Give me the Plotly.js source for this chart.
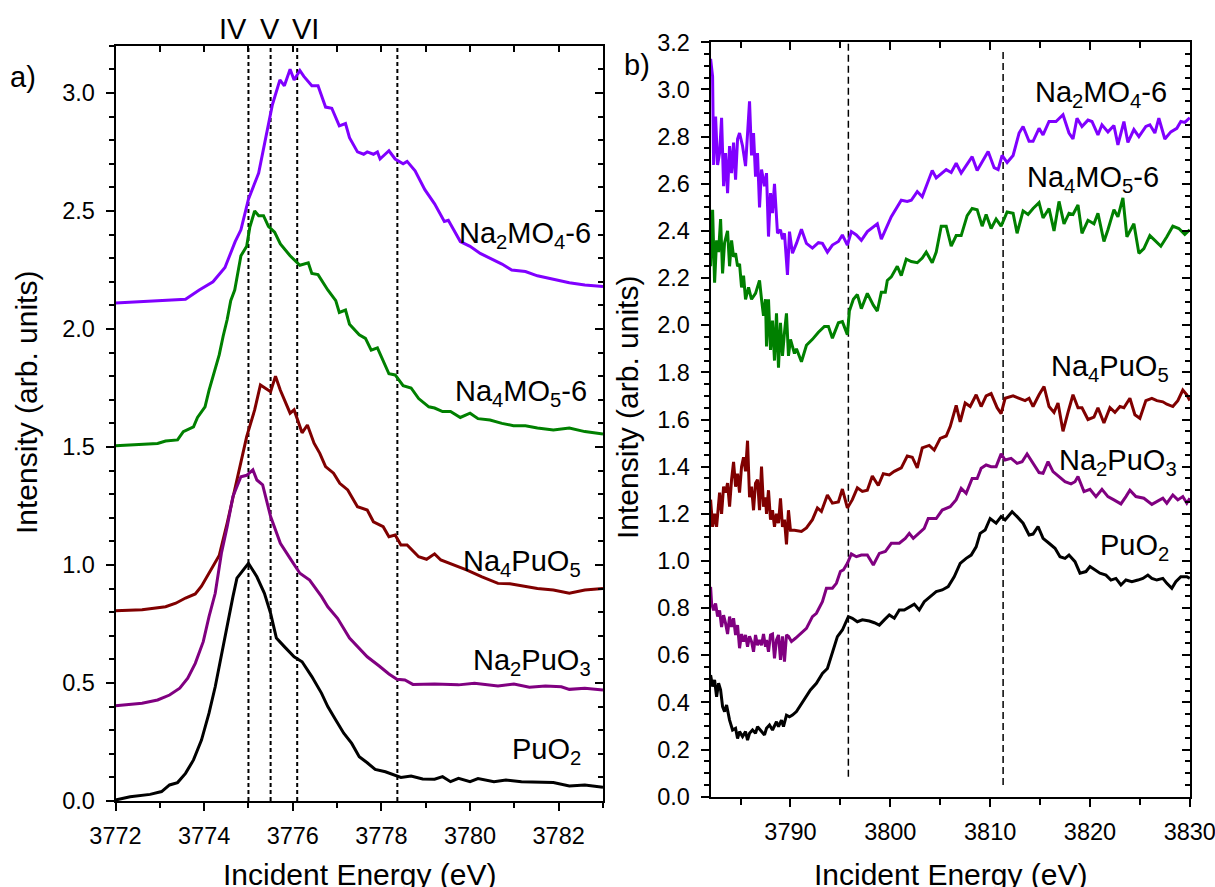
<!DOCTYPE html>
<html>
<head>
<meta charset="utf-8">
<script src="https://cdn.plot.ly/plotly-3.0.1.min.js"></script>
<style>
  html, body { margin: 0; padding: 0; background: #fff; }
  #chart { width: 1215px; height: 887px; }
</style>
</head>
<body>
<div id="chart"></div>
<script>
// ---------- Panel a) : [energy (eV), intensity] ----------
const a_Na2MO4 = [[3772.0,2.11],[3772.5,2.115],[3773.0,2.12],[3773.58,2.126],[3773.89,2.165],[3774.02,2.18],[3774.2,2.2],[3774.47,2.26],[3774.7,2.37],[3774.83,2.42],[3775.0,2.55],[3775.23,2.66],[3775.45,2.86],[3775.54,2.95],[3775.71,3.055],[3775.81,3.03],[3775.94,3.1],[3776.03,3.055],[3776.16,3.095],[3776.25,3.07],[3776.43,3.03],[3776.57,3.03],[3776.74,2.94],[3776.88,2.935],[3777.05,2.86],[3777.19,2.87],[3777.28,2.81],[3777.46,2.75],[3777.6,2.74],[3777.68,2.75],[3777.82,2.74],[3777.91,2.75],[3777.97,2.72],[3778.17,2.755],[3778.31,2.72],[3778.49,2.7],[3778.58,2.71],[3778.76,2.67],[3778.98,2.59],[3779.2,2.53],[3779.42,2.455],[3779.51,2.46],[3779.78,2.37],[3780.0,2.35],[3780.23,2.32],[3780.45,2.3],[3780.72,2.275],[3780.94,2.25],[3781.25,2.243],[3781.52,2.225],[3781.88,2.21],[3782.24,2.196],[3782.59,2.186],[3783.0,2.18]];
const a_Na4MO5 = [[3772.0,1.505],[3772.5,1.51],[3772.95,1.515],[3773.13,1.525],[3773.4,1.53],[3773.53,1.565],[3773.76,1.585],[3773.85,1.625],[3774.02,1.67],[3774.11,1.74],[3774.25,1.83],[3774.34,1.89],[3774.43,1.97],[3774.52,2.04],[3774.6,2.12],[3774.69,2.165],[3774.83,2.31],[3774.96,2.35],[3775.03,2.43],[3775.14,2.5],[3775.23,2.48],[3775.34,2.48],[3775.45,2.435],[3775.59,2.41],[3775.72,2.36],[3775.94,2.31],[3776.16,2.27],[3776.35,2.28],[3776.43,2.235],[3776.57,2.23],[3776.79,2.165],[3776.97,2.12],[3777.05,2.07],[3777.19,2.08],[3777.28,2.02],[3777.5,1.975],[3777.64,1.96],[3777.77,1.91],[3777.91,1.92],[3778.17,1.81],[3778.31,1.805],[3778.49,1.76],[3778.67,1.75],[3778.84,1.705],[3779.07,1.67],[3779.2,1.665],[3779.38,1.65],[3779.56,1.65],[3779.78,1.625],[3780.0,1.643],[3780.18,1.62],[3780.45,1.614],[3780.72,1.6],[3780.98,1.59],[3781.25,1.59],[3781.52,1.58],[3781.88,1.572],[3782.24,1.58],[3782.59,1.565],[3783.0,1.555]];
const a_Na4PuO5 = [[3772.0,0.806],[3772.6,0.81],[3773.13,0.823],[3773.36,0.838],[3773.58,0.86],[3773.8,0.877],[3773.94,0.91],[3774.11,0.965],[3774.34,1.04],[3774.52,1.177],[3774.74,1.36],[3774.96,1.544],[3775.14,1.657],[3775.27,1.763],[3775.5,1.734],[3775.61,1.8],[3775.72,1.74],[3775.94,1.643],[3776.03,1.657],[3776.21,1.56],[3776.33,1.593],[3776.48,1.516],[3776.61,1.473],[3776.74,1.417],[3776.92,1.389],[3777.06,1.346],[3777.24,1.318],[3777.46,1.247],[3777.68,1.233],[3777.82,1.183],[3778.04,1.162],[3778.17,1.12],[3778.31,1.127],[3778.44,1.085],[3778.58,1.085],[3778.84,1.035],[3779.02,1.024],[3779.2,1.047],[3779.34,1.021],[3779.65,1.0],[3779.92,0.979],[3780.27,0.95],[3780.63,0.922],[3780.9,0.92],[3781.16,0.911],[3781.52,0.9],[3781.88,0.894],[3782.24,0.88],[3782.59,0.894],[3783.0,0.9]];
const a_Na2PuO3 = [[3772.0,0.404],[3772.6,0.414],[3772.95,0.428],[3773.22,0.449],[3773.45,0.478],[3773.63,0.52],[3773.8,0.583],[3773.98,0.675],[3774.11,0.781],[3774.25,0.88],[3774.39,1.05],[3774.52,1.162],[3774.65,1.29],[3774.83,1.374],[3774.96,1.38],[3775.1,1.403],[3775.19,1.36],[3775.32,1.339],[3775.5,1.205],[3775.72,1.092],[3775.94,1.028],[3776.16,0.965],[3776.38,0.936],[3776.52,0.9],[3776.65,0.866],[3776.79,0.823],[3777.01,0.774],[3777.28,0.69],[3777.46,0.654],[3777.68,0.611],[3777.95,0.572],[3778.17,0.538],[3778.35,0.516],[3778.53,0.513],[3778.71,0.494],[3779.2,0.496],[3779.74,0.492],[3780.1,0.499],[3780.63,0.487],[3780.99,0.496],[3781.34,0.482],[3781.7,0.487],[3782.06,0.484],[3782.24,0.473],[3782.59,0.478],[3783.0,0.47]];
const a_PuO2 = [[3772.0,0.004],[3772.33,0.018],[3772.78,0.028],[3773.04,0.04],[3773.22,0.068],[3773.4,0.078],[3773.58,0.117],[3773.76,0.174],[3773.94,0.258],[3774.11,0.372],[3774.25,0.484],[3774.38,0.611],[3774.52,0.739],[3774.65,0.866],[3774.74,0.944],[3774.83,0.965],[3775.0,1.007],[3775.19,0.95],[3775.36,0.88],[3775.5,0.795],[3775.63,0.69],[3775.81,0.654],[3776.03,0.611],[3776.21,0.59],[3776.43,0.527],[3776.65,0.456],[3776.79,0.4],[3776.97,0.343],[3777.15,0.287],[3777.33,0.244],[3777.5,0.188],[3777.68,0.162],[3777.86,0.134],[3778.09,0.124],[3778.31,0.11],[3778.44,0.1],[3778.67,0.106],[3778.93,0.093],[3779.2,0.092],[3779.38,0.103],[3779.56,0.082],[3779.74,0.096],[3780.0,0.082],[3780.18,0.095],[3780.54,0.082],[3780.81,0.089],[3781.16,0.082],[3781.52,0.08],[3781.88,0.078],[3782.24,0.064],[3782.59,0.068],[3783.0,0.058]];

// ---------- Panel b) : [energy (eV), intensity] ----------
const b_Na2MO4 = [[3782.0,3.13],[3782.2,3.055],[3782.3,2.68],[3782.5,2.885],[3782.7,2.68],[3782.9,2.73],[3783.1,2.88],[3783.3,2.59],[3783.5,2.73],[3783.7,2.56],[3783.9,2.76],[3784.1,2.645],[3784.3,2.775],[3784.5,2.617],[3784.7,2.79],[3784.9,2.815],[3785.2,2.76],[3785.5,2.675],[3785.9,2.95],[3786.1,2.72],[3786.3,2.815],[3786.5,2.63],[3786.7,2.73],[3786.9,2.5],[3787.1,2.66],[3787.4,2.59],[3787.6,2.645],[3787.8,2.376],[3788.0,2.56],[3788.2,2.475],[3788.4,2.6],[3788.7,2.39],[3789.0,2.405],[3789.2,2.365],[3789.4,2.39],[3789.7,2.213],[3789.9,2.397],[3790.2,2.305],[3790.6,2.347],[3791.1,2.407],[3791.6,2.347],[3792.2,2.327],[3792.8,2.35],[3793.2,2.347],[3793.7,2.31],[3794.2,2.34],[3794.8,2.355],[3795.2,2.383],[3795.7,2.34],[3796.1,2.397],[3796.6,2.383],[3797.1,2.36],[3797.7,2.397],[3798.7,2.43],[3799.1,2.365],[3800.1,2.46],[3801.1,2.53],[3801.7,2.525],[3802.1,2.53],[3802.7,2.567],[3803.2,2.545],[3804.2,2.656],[3804.6,2.625],[3805.6,2.66],[3806.1,2.648],[3806.6,2.687],[3807.1,2.645],[3808.2,2.715],[3808.7,2.656],[3809.8,2.737],[3810.4,2.668],[3810.8,2.66],[3811.2,2.72],[3811.7,2.69],[3812.3,2.72],[3812.9,2.815],[3813.3,2.843],[3813.9,2.78],[3814.3,2.78],[3814.9,2.835],[3815.3,2.807],[3815.9,2.864],[3816.6,2.864],[3817.3,2.893],[3817.9,2.815],[3818.3,2.79],[3818.7,2.878],[3819.2,2.843],[3819.8,2.87],[3820.2,2.864],[3820.8,2.807],[3821.2,2.85],[3821.8,2.82],[3822.4,2.847],[3822.8,2.765],[3823.4,2.864],[3823.8,2.775],[3824.4,2.83],[3824.9,2.8],[3825.6,2.843],[3826.0,2.85],[3826.5,2.815],[3826.9,2.878],[3827.5,2.79],[3828.1,2.82],[3828.7,2.835],[3829.1,2.864],[3829.5,2.86],[3830.0,2.88]];
const b_Na4MO5 = [[3782.0,2.25],[3782.2,2.49],[3782.4,2.18],[3782.6,2.36],[3782.8,2.31],[3783.0,2.45],[3783.2,2.22],[3783.4,2.35],[3783.7,2.4],[3783.9,2.25],[3784.1,2.36],[3784.3,2.29],[3784.5,2.305],[3784.7,2.25],[3784.9,2.26],[3785.1,2.16],[3785.3,2.21],[3785.5,2.11],[3785.8,2.16],[3786.1,2.11],[3786.5,2.135],[3786.9,2.19],[3787.1,2.11],[3787.3,2.04],[3787.5,2.11],[3787.6,1.91],[3787.8,2.11],[3788.0,1.895],[3788.2,2.02],[3788.4,1.85],[3788.6,2.05],[3788.8,1.82],[3789.0,2.01],[3789.2,1.87],[3789.4,1.97],[3789.6,2.05],[3789.8,1.87],[3790.0,1.94],[3790.4,1.88],[3790.6,1.9],[3791.1,1.845],[3791.6,1.915],[3792.2,1.94],[3792.8,1.97],[3793.4,1.995],[3793.8,1.995],[3794.2,1.945],[3794.8,2.01],[3795.2,2.015],[3795.7,1.96],[3795.9,2.06],[3796.3,2.11],[3796.7,2.13],[3797.1,2.07],[3797.7,2.135],[3798.3,2.085],[3798.7,2.06],[3799.1,2.14],[3799.5,2.14],[3799.7,2.19],[3800.1,2.205],[3800.7,2.25],[3801.1,2.21],[3801.6,2.28],[3802.1,2.27],[3802.7,2.265],[3803.2,2.285],[3803.6,2.31],[3804.2,2.265],[3804.6,2.31],[3805.1,2.42],[3805.6,2.42],[3806.1,2.335],[3806.6,2.38],[3807.1,2.38],[3807.7,2.465],[3808.2,2.495],[3808.7,2.49],[3809.2,2.42],[3809.6,2.47],[3810.1,2.41],[3810.6,2.45],[3811.1,2.42],[3811.7,2.48],[3812.3,2.475],[3812.7,2.39],[3813.3,2.485],[3813.8,2.47],[3814.3,2.495],[3814.9,2.52],[3815.3,2.455],[3815.9,2.495],[3816.4,2.4],[3816.9,2.525],[3817.4,2.43],[3817.9,2.475],[3818.3,2.47],[3818.8,2.51],[3819.2,2.39],[3819.8,2.445],[3820.4,2.43],[3820.8,2.475],[3821.4,2.355],[3821.8,2.405],[3822.4,2.49],[3822.8,2.46],[3823.3,2.54],[3823.7,2.375],[3824.4,2.43],[3824.9,2.305],[3825.4,2.325],[3826.0,2.38],[3826.5,2.36],[3827.1,2.335],[3827.7,2.375],[3828.3,2.42],[3828.9,2.41],[3829.5,2.385],[3830.0,2.405]];
const b_Na4PuO5 = [[3782.0,1.26],[3782.2,1.145],[3782.4,1.2],[3782.6,1.145],[3782.9,1.29],[3783.1,1.2],[3783.3,1.315],[3783.5,1.29],[3783.7,1.33],[3783.9,1.23],[3784.1,1.345],[3784.3,1.42],[3784.5,1.315],[3784.7,1.37],[3784.9,1.29],[3785.1,1.4],[3785.3,1.44],[3785.5,1.38],[3785.7,1.51],[3785.9,1.27],[3786.1,1.315],[3786.3,1.215],[3786.5,1.33],[3786.7,1.345],[3786.9,1.215],[3787.1,1.4],[3787.3,1.23],[3787.5,1.27],[3787.6,1.2],[3787.8,1.3],[3788.0,1.175],[3788.2,1.215],[3788.4,1.145],[3788.6,1.2],[3788.8,1.16],[3789.0,1.265],[3789.2,1.145],[3789.4,1.175],[3789.6,1.07],[3789.8,1.215],[3790.0,1.13],[3790.4,1.13],[3791.1,1.125],[3791.6,1.14],[3792.2,1.175],[3792.7,1.225],[3793.1,1.21],[3793.7,1.28],[3794.2,1.245],[3794.8,1.25],[3795.2,1.305],[3795.7,1.225],[3796.2,1.26],[3796.7,1.31],[3797.2,1.295],[3797.7,1.3],[3798.2,1.36],[3798.8,1.32],[3799.3,1.37],[3799.9,1.365],[3800.4,1.38],[3801.1,1.395],[3801.7,1.445],[3802.2,1.44],[3802.7,1.395],[3803.2,1.48],[3803.9,1.49],[3804.4,1.47],[3805.0,1.52],[3805.6,1.53],[3806.0,1.57],[3806.6,1.66],[3807.0,1.59],[3807.5,1.67],[3808.0,1.655],[3808.6,1.705],[3809.1,1.655],[3809.6,1.7],[3810.1,1.71],[3810.7,1.65],[3811.1,1.625],[3811.5,1.69],[3812.3,1.7],[3812.9,1.69],[3813.5,1.68],[3813.9,1.69],[3814.3,1.655],[3814.9,1.705],[3815.4,1.74],[3815.9,1.655],[3816.4,1.63],[3816.8,1.67],[3817.3,1.55],[3817.8,1.63],[3818.3,1.705],[3818.8,1.65],[3819.2,1.65],[3819.8,1.6],[3820.4,1.61],[3820.8,1.65],[3821.4,1.585],[3822.0,1.65],[3822.5,1.63],[3823.0,1.655],[3823.4,1.65],[3824.0,1.69],[3824.5,1.62],[3825.0,1.605],[3825.6,1.68],[3826.2,1.69],[3826.7,1.68],[3827.3,1.675],[3827.7,1.665],[3828.3,1.655],[3828.8,1.68],[3829.3,1.725],[3829.7,1.705],[3830.0,1.68]];
const b_Na2PuO3 = [[3782.0,0.89],[3782.1,0.82],[3782.3,0.79],[3782.5,0.82],[3782.7,0.764],[3782.9,0.79],[3783.1,0.72],[3783.3,0.77],[3783.5,0.735],[3783.7,0.69],[3783.9,0.764],[3784.1,0.72],[3784.3,0.757],[3784.5,0.686],[3784.7,0.728],[3784.9,0.63],[3785.1,0.69],[3785.3,0.658],[3785.5,0.686],[3785.7,0.636],[3785.9,0.68],[3786.1,0.658],[3786.3,0.615],[3786.5,0.686],[3786.7,0.643],[3786.9,0.665],[3787.1,0.643],[3787.3,0.69],[3787.5,0.636],[3787.6,0.665],[3787.8,0.615],[3788.0,0.686],[3788.2,0.69],[3788.4,0.587],[3788.6,0.665],[3788.8,0.686],[3789.0,0.58],[3789.2,0.68],[3789.4,0.573],[3789.6,0.686],[3789.8,0.68],[3790.1,0.658],[3790.5,0.672],[3791.0,0.693],[3791.6,0.714],[3792.2,0.764],[3792.6,0.778],[3793.2,0.827],[3793.6,0.884],[3794.2,0.884],[3794.6,0.905],[3795.0,0.955],[3795.3,0.962],[3795.7,0.99],[3796.1,1.03],[3796.6,1.018],[3797.1,1.025],[3797.7,1.025],[3798.3,0.983],[3798.9,1.032],[3799.5,1.04],[3800.1,1.075],[3800.9,1.075],[3801.5,1.096],[3801.9,1.117],[3802.3,1.096],[3802.9,1.117],[3803.4,1.138],[3803.8,1.18],[3804.6,1.18],[3805.2,1.216],[3806.0,1.23],[3806.6,1.26],[3807.1,1.308],[3807.6,1.287],[3808.2,1.35],[3808.7,1.35],[3809.1,1.393],[3809.6,1.407],[3810.1,1.4],[3810.6,1.4],[3811.1,1.454],[3811.5,1.428],[3812.1,1.435],[3812.7,1.414],[3813.2,1.421],[3813.7,1.454],[3814.3,1.414],[3814.9,1.375],[3815.3,1.372],[3815.8,1.421],[3816.3,1.379],[3816.9,1.358],[3817.5,1.336],[3818.1,1.327],[3818.5,1.336],[3818.8,1.358],[3819.4,1.294],[3820.0,1.304],[3820.6,1.273],[3821.2,1.304],[3821.8,1.273],[3822.4,1.259],[3823.1,1.242],[3823.6,1.273],[3824.0,1.3],[3824.6,1.273],[3825.4,1.266],[3826.2,1.24],[3826.7,1.251],[3827.3,1.266],[3827.7,1.245],[3828.3,1.28],[3828.8,1.259],[3829.3,1.273],[3829.7,1.245],[3830.0,1.266]];
const b_PuO2 = [[3782.0,0.516],[3782.2,0.467],[3782.4,0.495],[3782.6,0.424],[3782.8,0.481],[3783.0,0.453],[3783.2,0.382],[3783.4,0.361],[3783.6,0.389],[3783.9,0.325],[3784.2,0.283],[3784.5,0.29],[3784.7,0.247],[3784.9,0.276],[3785.2,0.255],[3785.5,0.276],[3785.7,0.24],[3785.9,0.269],[3786.2,0.283],[3786.5,0.269],[3786.7,0.297],[3787.1,0.276],[3787.4,0.262],[3787.6,0.29],[3787.9,0.304],[3788.2,0.283],[3788.6,0.318],[3788.8,0.297],[3789.1,0.325],[3789.3,0.297],[3789.6,0.346],[3789.9,0.339],[3790.2,0.346],[3790.6,0.361],[3791.0,0.389],[3791.4,0.417],[3792.0,0.453],[3792.6,0.481],[3793.2,0.523],[3793.7,0.544],[3794.2,0.608],[3794.7,0.679],[3795.2,0.707],[3795.5,0.735],[3795.8,0.764],[3796.2,0.757],[3796.7,0.742],[3797.2,0.75],[3797.9,0.745],[3798.4,0.738],[3798.9,0.728],[3799.4,0.75],[3799.9,0.771],[3800.4,0.757],[3800.9,0.792],[3801.4,0.792],[3801.9,0.806],[3802.4,0.817],[3802.9,0.792],[3803.4,0.827],[3804.0,0.849],[3804.6,0.87],[3805.2,0.877],[3805.8,0.891],[3806.4,0.933],[3807.0,0.99],[3807.6,1.011],[3808.1,1.025],[3808.6,1.06],[3809.0,1.117],[3809.5,1.131],[3810.0,1.18],[3810.6,1.16],[3811.1,1.188],[3811.5,1.174],[3812.2,1.209],[3812.7,1.188],[3813.3,1.16],[3813.9,1.11],[3814.3,1.114],[3814.8,1.146],[3815.3,1.096],[3815.9,1.075],[3816.5,1.054],[3817.0,1.018],[3817.5,1.011],[3817.9,1.025],[3818.5,0.997],[3819.0,0.948],[3819.6,0.955],[3820.0,0.976],[3820.5,0.962],[3821.0,0.948],[3821.6,0.94],[3822.1,0.919],[3822.6,0.926],[3823.1,0.898],[3823.6,0.919],[3824.2,0.912],[3824.8,0.919],[3825.3,0.926],[3825.8,0.94],[3826.2,0.926],[3826.7,0.919],[3827.3,0.926],[3827.7,0.905],[3828.2,0.884],[3828.6,0.912],[3829.1,0.933],[3829.7,0.933],[3830.0,0.926]];

// marker lines (eV)
const a_markers = [3775.0, 3775.5, 3776.1, 3778.36];
const a_markerLabels = [["IV", 3774.65], ["V", 3775.48], ["VI", 3776.28]];
const b_markers = [[3795.8, 0.085, 3.2], [3811.3, 0.05, 3.175]];

// series names and colours
const names = ["Na<sub>2</sub>MO<sub>4</sub>-6", "Na<sub>4</sub>MO<sub>5</sub>-6", "Na<sub>4</sub>PuO<sub>5</sub>", "Na<sub>2</sub>PuO<sub>3</sub>", "PuO<sub>2</sub>"];
const colors = ["#8000FF", "#008000", "#800000", "#800080", "#000000"];
const aSeries = [a_Na2MO4, a_Na4MO5, a_Na4PuO5, a_Na2PuO3, a_PuO2];
const bSeries = [b_Na2MO4, b_Na4MO5, b_Na4PuO5, b_Na2PuO3, b_PuO2];
// label anchor positions [x (right edge), y]
const aLabelPos = [[3782.77, 2.40], [3782.68, 1.73], [3782.55, 1.01], [3782.77, 0.59], [3782.55, 0.21]];
const bLabelPos = [[3827.9, 2.98], [3827.1, 2.62], [3828.1, 1.82], [3828.9, 1.42], [3828.1, 1.06]];

const FONT = "Liberation Sans, Arial, sans-serif";
const W = 1215, H = 887;
const px = v => v / W;           // horizontal pixel -> paper
const py = v => 1 - v / H;       // vertical pixel -> paper

const traces = [];
aSeries.forEach((s, i) => traces.push({
  x: s.map(p => p[0]), y: s.map(p => p[1]), xaxis: "x", yaxis: "y",
  type: "scatter", mode: "lines", line: {color: colors[i], width: 3}, name: names[i], showlegend: false, hoverinfo: "skip"
}));
bSeries.forEach((s, i) => traces.push({
  x: s.map(p => p[0]), y: s.map(p => p[1]), xaxis: "x2", yaxis: "y2",
  type: "scatter", mode: "lines", line: {color: colors[i], width: 3}, name: names[i], showlegend: false, hoverinfo: "skip"
}));
// empty traces to create the mirror (top/right) axes
traces.push({x: [], y: [], xaxis: "x3", yaxis: "y3", type: "scatter", showlegend: false});
traces.push({x: [], y: [], xaxis: "x4", yaxis: "y4", type: "scatter", showlegend: false});

const xdomA = [px(115.5), px(603)], ydomA = [py(801), py(45.7)];
const xdomB = [px(710.6), px(1190)], ydomB = [py(796.7), py(42.3)];

const tickFont = {family: FONT, size: 23.5, color: "#000"};
const baseAx = {showgrid: false, zeroline: false, showline: true, linecolor: "#000", linewidth: 2,
                tickcolor: "#000", tickwidth: 2, tickfont: tickFont};

const layout = {
  width: W, height: H,
  margin: {l: 0, r: 0, t: 0, b: 0},
  paper_bgcolor: "#fff", plot_bgcolor: "rgba(0,0,0,0)",
  showlegend: false,
  font: {family: FONT, color: "#000"},
  xaxis: Object.assign({}, baseAx, {domain: xdomA, anchor: "y", range: [3772, 3783], tick0: 3772, dtick: 2,
    ticks: "outside", ticklen: 8, ticklabelstandoff: 5,
    minor: {dtick: 1, ticks: "outside", ticklen: 5, tickwidth: 2, tickcolor: "#000", showgrid: false}}),
  yaxis: Object.assign({}, baseAx, {domain: ydomA, anchor: "x", range: [0, 3.2], tick0: 0, dtick: 0.5, tickformat: ".1f",
    ticks: "outside", ticklen: 8, ticklabelstandoff: 6,
    minor: {dtick: 0.1, ticks: "outside", ticklen: 5, tickwidth: 2, tickcolor: "#000", showgrid: false}}),
  xaxis3: Object.assign({}, baseAx, {domain: xdomA, anchor: "y3", overlaying: "x", side: "top", range: [3772, 3783], tick0: 3772, dtick: 1,
    ticks: "inside", ticklen: 6, showticklabels: false}),
  yaxis3: Object.assign({}, baseAx, {domain: ydomA, anchor: "x3", overlaying: "y", side: "right", range: [0, 3.2], tick0: 0, dtick: 0.5,
    ticks: "inside", ticklen: 8, showticklabels: false,
    minor: {dtick: 0.1, ticks: "inside", ticklen: 5, tickwidth: 2, tickcolor: "#000", showgrid: false}}),
  xaxis2: Object.assign({}, baseAx, {domain: xdomB, anchor: "y2", range: [3782, 3830.02], tick0: 3780, dtick: 10,
    ticks: "outside", ticklen: 8, ticklabelstandoff: 5, ticklabeloverflow: "allow",
    minor: {dtick: 5, ticks: "outside", ticklen: 6, tickwidth: 2, tickcolor: "#000", showgrid: false}}),
  yaxis2: Object.assign({}, baseAx, {domain: ydomB, anchor: "x2", range: [0, 3.2], tick0: 0, dtick: 0.2, tickformat: ".1f",
    ticks: "outside", ticklen: 8, ticklabelstandoff: 6,
    minor: {dtick: 0.05, ticks: "outside", ticklen: 5, tickwidth: 2, tickcolor: "#000", showgrid: false}}),
  xaxis4: Object.assign({}, baseAx, {domain: xdomB, anchor: "y4", overlaying: "x2", side: "top", range: [3782, 3830.02], tick0: 3780, dtick: 10,
    ticks: "inside", ticklen: 8, showticklabels: false,
    minor: {dtick: 5, ticks: "inside", ticklen: 6, tickwidth: 2, tickcolor: "#000", showgrid: false}}),
  yaxis4: Object.assign({}, baseAx, {domain: ydomB, anchor: "x4", overlaying: "y2", side: "right", range: [0, 3.2], tick0: 0, dtick: 0.2,
    ticks: "inside", ticklen: 8, showticklabels: false,
    minor: {dtick: 0.05, ticks: "inside", ticklen: 5, tickwidth: 2, tickcolor: "#000", showgrid: false}}),
  shapes: [],
  annotations: []
};

a_markers.forEach(e => layout.shapes.push({type: "line", xref: "x", yref: "y", x0: e, x1: e, y0: 0, y1: 3.2,
  line: {color: "#000", width: 2, dash: "4px,3px"}, layer: "below"}));
b_markers.forEach(m => layout.shapes.push({type: "line", xref: "x2", yref: "y2", x0: m[0], x1: m[0], y0: m[1], y1: m[2],
  line: {color: "#000", width: 1.5, dash: "7px,4px"}, layer: "below"}));

const labFont = {family: FONT, size: 29, color: "#000"};
names.forEach((n, i) => {
  layout.annotations.push({xref: "x", yref: "y", x: aLabelPos[i][0], y: aLabelPos[i][1], text: n, showarrow: false,
    xanchor: "right", yanchor: "middle", font: labFont});
  layout.annotations.push({xref: "x2", yref: "y2", x: bLabelPos[i][0], y: bLabelPos[i][1], text: n, showarrow: false,
    xanchor: "right", yanchor: "middle", font: labFont});
});
a_markerLabels.forEach(m => layout.annotations.push({xref: "x", yref: "paper", x: m[1], y: py(29), text: m[0], showarrow: false,
  xanchor: "center", yanchor: "middle", font: labFont}));

// panel letters
layout.annotations.push({xref: "paper", yref: "paper", x: px(23), y: py(77), text: "a)", showarrow: false, xanchor: "center", yanchor: "middle", font: labFont});
layout.annotations.push({xref: "paper", yref: "paper", x: px(637), y: py(65), text: "b)", showarrow: false, xanchor: "center", yanchor: "middle", font: labFont});

// axis titles
const titleFont = {family: FONT, size: 30, color: "#000"};
layout.annotations.push({xref: "paper", yref: "paper", x: (xdomA[0] + xdomA[1]) / 2, y: py(856), text: "Incident Energy (eV)", showarrow: false, xanchor: "center", yanchor: "top", font: titleFont});
layout.annotations.push({xref: "paper", yref: "paper", x: (xdomB[0] + xdomB[1]) / 2, y: py(856), text: "Incident Energy (eV)", showarrow: false, xanchor: "center", yanchor: "top", font: titleFont});
layout.annotations.push({xref: "paper", yref: "paper", x: px(26), y: py(403), text: "Intensity (arb. units)", textangle: -90, showarrow: false, xanchor: "center", yanchor: "middle", font: titleFont});
layout.annotations.push({xref: "paper", yref: "paper", x: px(627), y: py(408), text: "Intensity (arb. units)", textangle: -90, showarrow: false, xanchor: "center", yanchor: "middle", font: titleFont});

Plotly.newPlot("chart", traces, layout, {displayModeBar: false, staticPlot: true});
</script>
</body>
</html>
